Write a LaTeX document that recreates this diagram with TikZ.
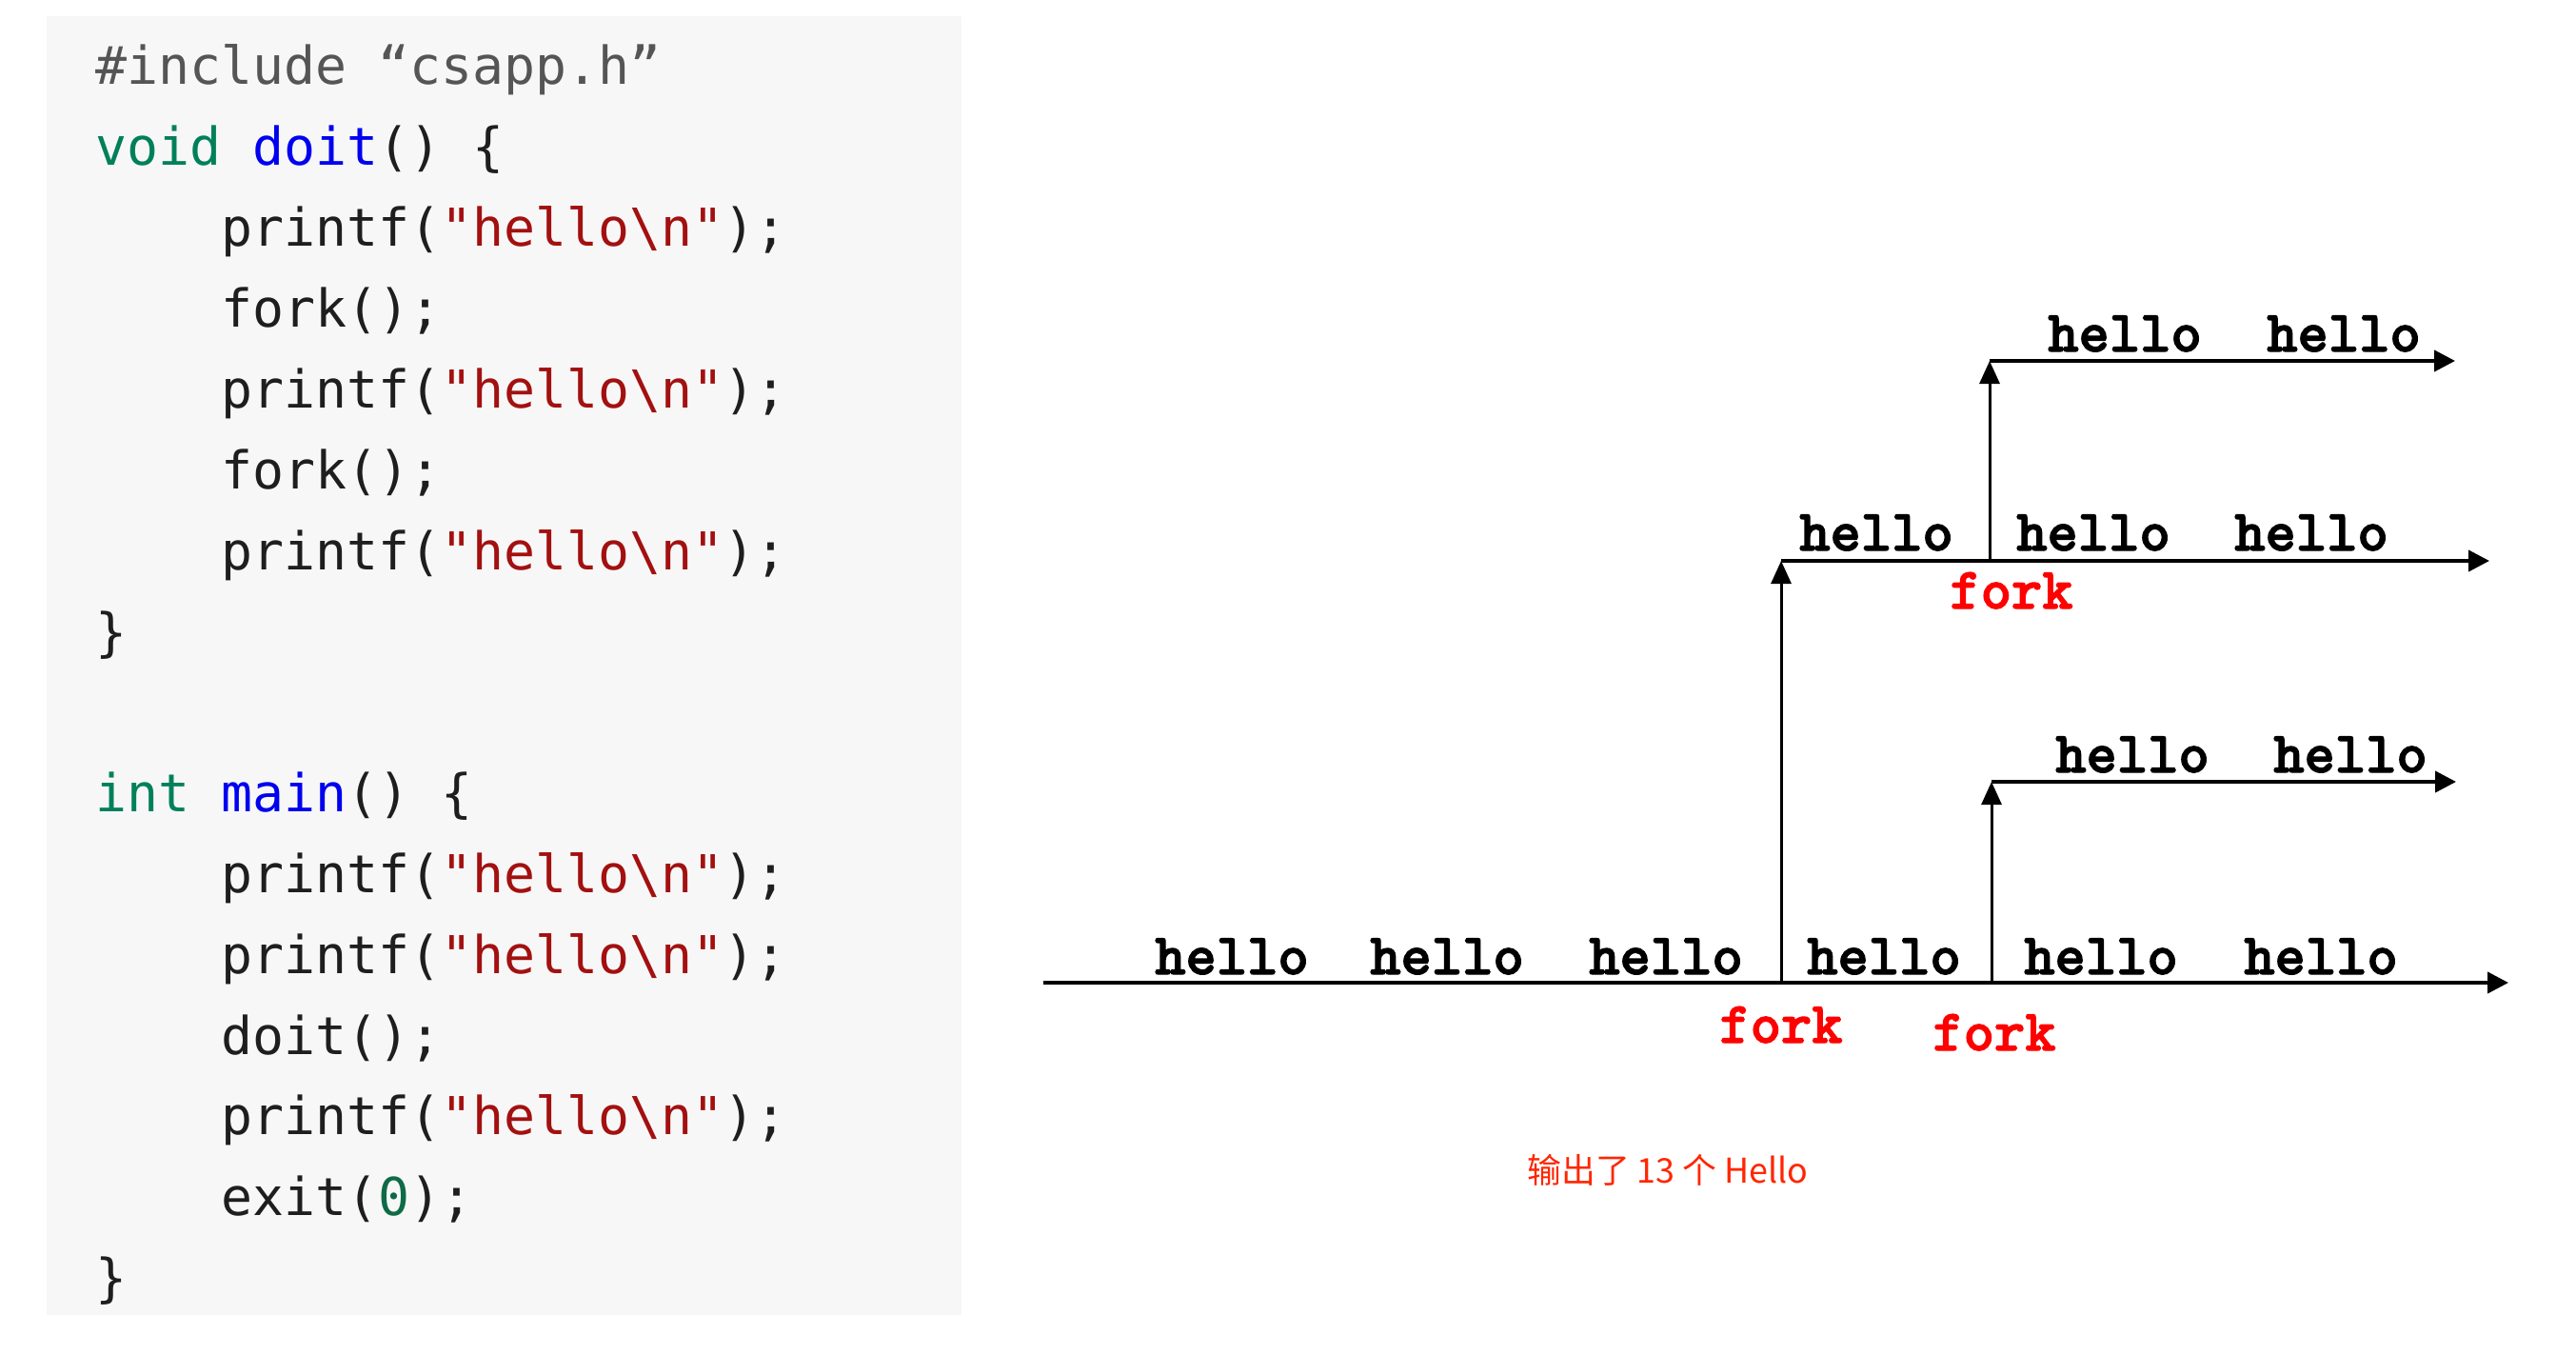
\documentclass[tikz,border=0pt]{standalone}
\usepackage{fontspec}
\usetikzlibrary{arrows.meta}
\newfontfamily\codefont{DejaVu Sans Mono}[Ligatures=TeXOff]
\newfontfamily\tracefont{lmmonolt10-bold.otf}[FakeBold=2]
\newfontfamily\cjkfont{Noto Sans CJK SC}
\definecolor{panelgray}{HTML}{F7F7F7}
\definecolor{codeblack}{HTML}{1E1E1E}
\definecolor{prepgray}{HTML}{555555}
\definecolor{kwgreen}{HTML}{00805A}
\definecolor{fnblue}{HTML}{0000F0}
\definecolor{strred}{HTML}{A31010}
\definecolor{numgreen}{HTML}{0E6B45}
\definecolor{forkred}{HTML}{FF0000}
\definecolor{notered}{HTML}{FF2600}
\newcommand\ckw[1]{\textcolor{kwgreen}{#1}}
\newcommand\cfn[1]{\textcolor{fnblue}{#1}}
\newcommand\cstr[1]{\textcolor{strred}{#1}}
\newcommand\hellostr{printf(\cstr{"hello\textbackslash n"});}
\tikzset{
  codeline/.style={anchor=base west, inner sep=0pt, text=codeblack,
    font=\codefont\fontsize{15.6}{18}\selectfont},
  hellolabel/.style={anchor=base, inner sep=0pt,
    font=\tracefont\fontsize{17.5}{20}\selectfont},
  forklabel/.style={hellolabel, text=forkred},
  timeline/.style={line width=1.15pt, -{Triangle[length=0.22cm,width=0.22cm]}},
  branch/.style={line width=0.85pt, -{Triangle[length=0.24cm,width=0.21cm]}}
}
\begin{document}
\begin{tikzpicture}
  \useasboundingbox (0,0) rectangle (27.06,14.22);
  % code panel
  \fill[panelgray] (0.49,0.41) rectangle (10.10,14.05);
  \node[codeline, text=prepgray] (c0) at (1.00,13.33) {\#include “csapp.h”};
  \node[codeline] (c1) at (1.00,12.48) {\ckw{void} \cfn{doit}() \{};
  \node[codeline] (c2) at (2.32,11.63) {\hellostr};
  \node[codeline] (c3) at (2.32,10.79) {fork();};
  \node[codeline] (c4) at (2.32,9.94) {\hellostr};
  \node[codeline] (c5) at (2.32,9.09) {fork();};
  \node[codeline] (c6) at (2.32,8.24) {\hellostr};
  \node[codeline] (c7) at (1.00,7.39) {\}};
  \node[codeline] (c9) at (1.00,5.70) {\ckw{int} \cfn{main}() \{};
  \node[codeline] (c10) at (2.32,4.85) {\hellostr};
  \node[codeline] (c11) at (2.32,4.00) {\hellostr};
  \node[codeline] (c12) at (2.32,3.15) {doit();};
  \node[codeline] (c13) at (2.32,2.31) {\hellostr};
  \node[codeline] (c14) at (2.32,1.46) {exit(\textcolor{numgreen}{0});};
  \node[codeline] (c15) at (1.00,0.61) {\}};

  % process tree
  \coordinate (start) at (10.96,3.90);
  \coordinate (forkA) at (18.71,3.90);
  \coordinate (forkB) at (20.92,3.90);
  \coordinate (mainend) at (26.35,3.90);
  \coordinate (childA) at (18.71,8.33);
  \coordinate (forkC) at (20.90,8.33);
  \coordinate (childAend) at (26.15,8.33);
  \coordinate (childC) at (20.90,10.43);
  \coordinate (childCend) at (25.79,10.43);
  \coordinate (childB) at (20.92,6.01);
  \coordinate (childBend) at (25.80,6.01);

  \draw[branch] (forkA) -- (childA);
  \draw[branch] (forkB) -- (childB);
  \draw[branch] (forkC) -- (childC);
  \draw[timeline] (start) -- (mainend);
  \draw[timeline] (childA) -- (childAend);
  \draw[timeline] (childB) -- (childBend);
  \draw[timeline] (childC) -- (childCend);

  \node[hellolabel] (m1) at (12.94,3.99) {hello};
  \node[hellolabel] (m2) at (15.20,3.99) {hello};
  \node[hellolabel] (m3) at (17.50,3.99) {hello};
  \node[hellolabel] (m4) at (19.79,3.99) {hello};
  \node[hellolabel] (m5) at (22.07,3.99) {hello};
  \node[hellolabel] (m6) at (24.38,3.99) {hello};
  \node[hellolabel] (a1) at (19.71,8.44) {hello};
  \node[hellolabel] (a2) at (21.99,8.44) {hello};
  \node[hellolabel] (a3) at (24.28,8.44) {hello};
  \node[hellolabel] (t1) at (22.32,10.53) {hello};
  \node[hellolabel] (t2) at (24.62,10.53) {hello};
  \node[hellolabel] (b1) at (22.40,6.11) {hello};
  \node[hellolabel] (b2) at (24.69,6.11) {hello};

  \node[forklabel] (fA) at (18.71,3.27) {fork};
  \node[forklabel] (fB) at (20.95,3.19) {fork};
  \node[forklabel] (fC) at (21.13,7.83) {fork};

  \node[text=notered, font=\cjkfont\fontsize{10.2}{12}\selectfont] (note)
    at (17.52,1.93) {输出了 13 个 Hello};
\end{tikzpicture}
\end{document}
